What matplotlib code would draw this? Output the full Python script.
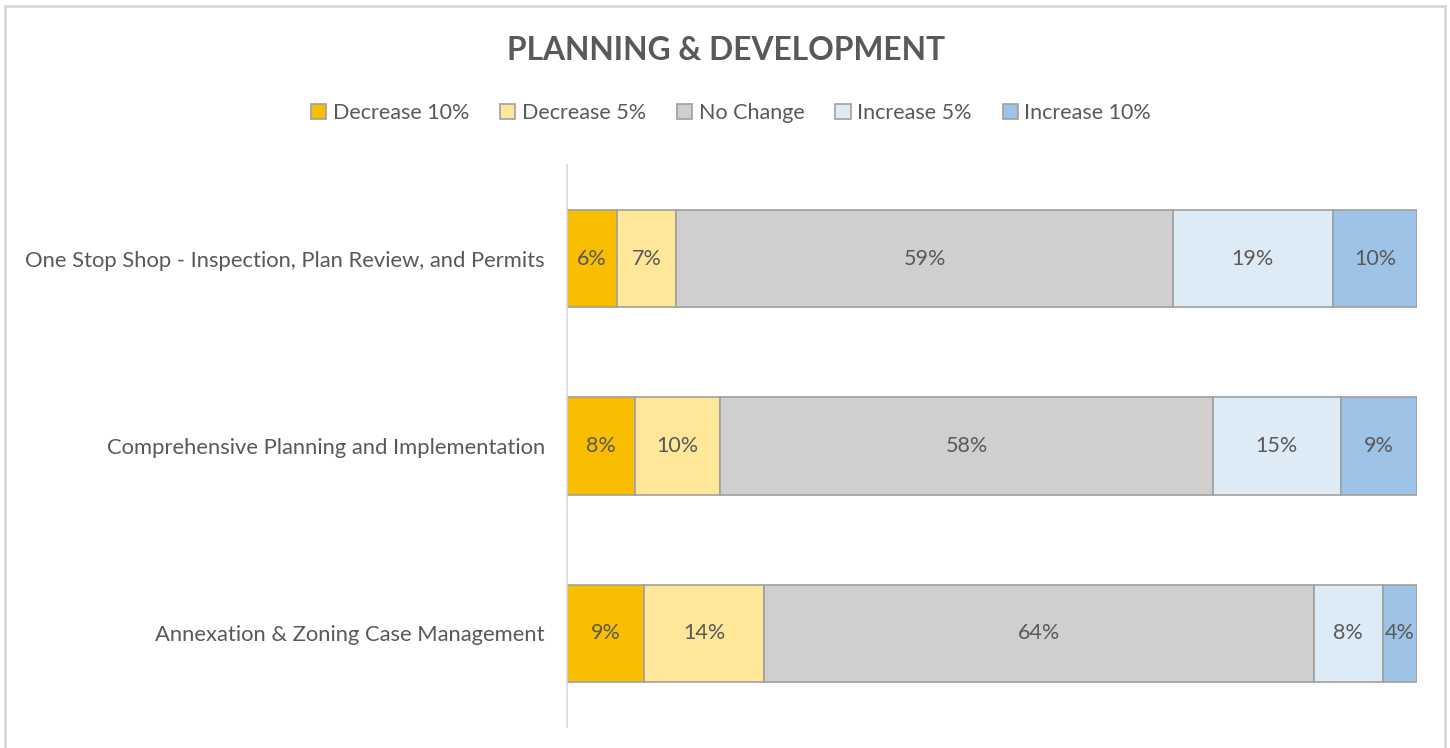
import matplotlib
matplotlib.use('Agg')
import matplotlib.pyplot as plt
import numpy as np
from matplotlib.patches import Rectangle

plt.rcParams['font.family'] = ['Lato', 'DejaVu Sans']

categories = ['One Stop Shop - Inspection, Plan Review, and Permits',
              'Comprehensive Planning and Implementation',
              'Annexation & Zoning Case Management']
series_names = ['Decrease 10%', 'Decrease 5%', 'No Change', 'Increase 5%', 'Increase 10%']
decrease_10 = [6, 8, 9]
decrease_5 = [7, 10, 14]
no_change = [59, 58, 64]
increase_5 = [19, 15, 8]
increase_10 = [10, 9, 4]
colors = ['#F9BE00', '#FFE699', '#D0CECE', '#DDEBF7', '#9DC3E6']

TEXT = '#595959'

series = np.array([decrease_10, decrease_5, no_change, increase_5, increase_10], dtype=float)
totals = series.sum(axis=0)
shares = series / totals * 100

fig = plt.figure(figsize=(14.5, 7.48), dpi=100)
ax = fig.add_axes([567 / 1450, 1 - 727 / 748, 850 / 1450, 562 / 748])

y = np.arange(len(categories))
left = np.zeros(len(categories))
handles = []
for i, name in enumerate(series_names):
    bars = ax.barh(y, shares[i], left=left, height=0.52, color=colors[i],
                   edgecolor='#A0A0A0', linewidth=1.2, label=name)
    handles.append(bars)
    for j, b in enumerate(bars):
        ax.text(left[j] + shares[i][j] / 2, y[j], '%d%%' % series[i][j],
                ha='center', va='center', fontsize=15.5, color=TEXT)
    left += shares[i]

ax.set_xlim(0, 100)
ax.set_ylim(2.5, -0.5)
ax.set_yticks(y)
ax.set_yticklabels(categories, fontsize=15.8, color=TEXT)
ax.tick_params(axis='y', length=0, pad=16)
ax.set_xticks([])
for s in ['top', 'right', 'bottom']:
    ax.spines[s].set_visible(False)
ax.spines['left'].set_color('#D9D9D9')
ax.spines['left'].set_linewidth(1.2)

fig.text(726 / 1450, 1 - 50 / 748, 'PLANNING & DEVELOPMENT', ha='center', va='center',
         fontsize=22.9, fontweight='bold', color=TEXT)
fig.legend(handles=handles, loc='center', bbox_to_anchor=(731 / 1450, 1 - 113 / 748),
           ncol=5, frameon=False, fontsize=15.5, labelcolor=TEXT,
           handlelength=0.7, handleheight=0.7, handletextpad=0.3, columnspacing=1.45)

fig.patches.append(Rectangle((5 / 1450, -0.05), 1440 / 1450, 1.05 - 6 / 748, transform=fig.transFigure,
                             fill=False, edgecolor='#D9D9D9', linewidth=2))

fig.savefig('out.png', dpi=100)
